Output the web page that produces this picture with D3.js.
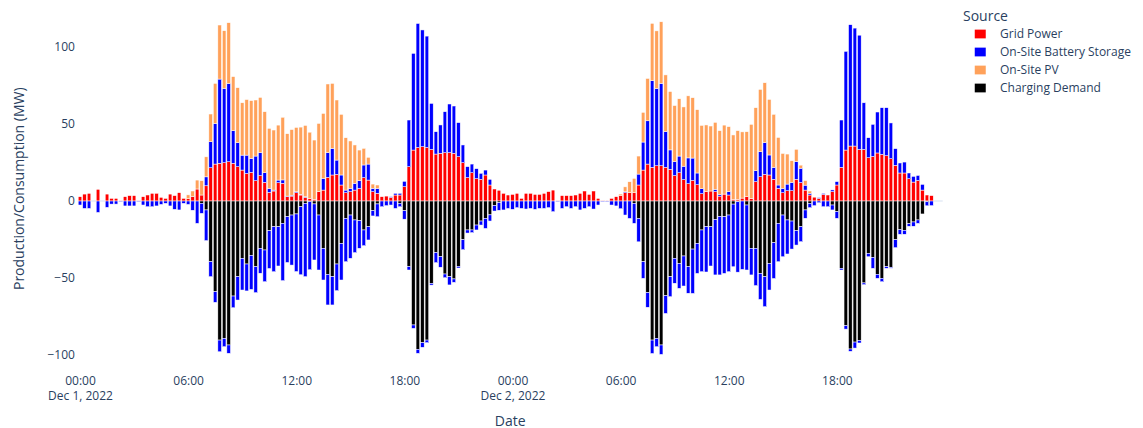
<!DOCTYPE html>
<html>
<head>
<meta charset="utf-8">
<script src="https://cdn.jsdelivr.net/npm/d3@7"></script>
<style>
  html, body { margin: 0; padding: 0; background: #fff; }
  svg { display: block; font-family: "Open Sans", verdana, arial, sans-serif; }
</style>
</head>
<body>
<svg id="chart" width="1143" height="428"></svg>
<script>
// 15-minute intervals, Dec 1 2022 00:00 through Dec 2 2022 23:45 (192 slots), MW
const startTime = Date.UTC(2022, 11, 1, 0, 0);
const stepMs = 15 * 60 * 1000;

const seriesNames = ["Grid Power", "On-Site Battery Storage", "On-Site PV", "Charging Demand"];
const seriesColors = ["#ff0000", "#0000ff", "#ffa15a", "#000000"];

const gridPower = [
  2.8, 4.5, 5, 0, 7.6, 0, 4.5, 1.7, 1.7, 0.3, 2.8, 3.5, 3.5, 0.3, 2.8, 3.9, 5, 5, 2.4, 1.7, 4.5, 3.5, 5.4, 1.7,
  1.5, 3, 7.8, 3.9, 9.9, 21.6, 24, 24.5, 24.9, 25.5, 24.5, 22.3, 20.1, 17.9, 18.6, 13.2, 16.5, 12.1, 5.6, 6.5, 11.9, 11.5, 2.8, 3.2,
  5.4, 3.9, 2.4, 1.7, 1.1, 6.1, 7.1, 15.4, 16.9, 17.3, 10.4, 5.4, 6.1, 7.1, 8.2, 15.2, 13.6, 6.1, 5, 2.8, 3.2, 2.4, 3.9, 3.9,
  9.3, 22.3, 33.1, 34.8, 35.3, 34.8, 33.5, 30.5, 31, 31.4, 31.4, 31, 28.8, 24.9, 15.2, 18.4, 14.5, 14.1, 16.9, 10.4, 7.8, 7, 5, 3.9,
  4.3, 5, 1.7, 5, 5, 4.3, 4.3, 5, 6.1, 7.1, 0.3, 3.5, 3.5, 3.5, 3.9, 5, 6.5, 4.3, 6.5, 1.7, 0.3, 0.3, 1.7, 2.8,
  3.5, 5.4, 5.4, 5.4, 10.4, 20.1, 24, 21.9, 22.9, 22.9, 21.9, 20.6, 16.5, 18.4, 13.9, 11.3, 13.4, 10.6, 4.8, 6.1, 6.5, 6.1, 3.2, 4.5,
  3.9, 1.1, 1.1, 1.9, 2.8, 1.7, 12.6, 15.8, 17.3, 16.9, 14.1, 8.2, 5.4, 6.7, 6.7, 14.1, 12, 7.1, 3.9, 2.5, 1.7, 4.3, 3.9, 6.1,
  10.4, 21.9, 33.1, 35.7, 35.7, 33.5, 33.5, 28.1, 29, 31.2, 30.3, 29.4, 27.5, 23.2, 18.2, 18.2, 14.5, 12.3, 13.4, 7.1, 3.9, 3.5, 0, 0
];

// battery discharging (positive) and charging (negative) parts of the same source
const batteryDischarge = [
  0, 0, 0, 0, 0, 0, 0, 0, 0, 0, 0, 0, 0, 0, 0, 0, 0, 0, 0, 0, 0, 0, 0, 0,
  0, 0, 0, 0, 5.8, 16.9, 26.4, 54.7, 48.3, 50.9, 21.2, 15.6, 9.7, 11.9, 9.1, 16, 14.9, 6.3, 2.6, 0.6, 1.7, 2.2, 0.4, 0.6,
  0.6, 0.4, 0.4, 0, 0, 0, 7.6, 16, 17.3, 9.3, 6.5, 1.7, 2.1, 4.4, 5, 8.2, 10.4, 2.1, 3.2, 0, 0, 0.4, 1.1, 1.1,
  3.5, 30.3, 62.8, 80.5, 75.8, 72.3, 29.9, 14.5, 18.4, 26.6, 31.6, 30.7, 22.1, 11.5, 7.1, 5.6, 6.5, 3.9, 3.2, 3.7, 0, 0, 0, 0,
  0, 0, 0, 0, 0, 0, 0, 0, 0, 0, 0, 0, 0, 0, 0, 0, 0, 0, 0, 0, 0, 0, 0, 0,
  0, 0.6, 0, 0, 7.1, 18.2, 28.1, 56.3, 50.2, 53.5, 23.2, 12.6, 9.1, 10.8, 8.7, 16.7, 14.5, 7.6, 3.2, 0, 0, 1.5, 1, 0,
  2.2, 0, 0, 0, 0, 0, 7.1, 16.2, 20.6, 13, 7.8, 2.2, 2.8, 4.3, 5.4, 11.5, 9.3, 3.2, 1.1, 0, 0.5, 0.6, 0, 1.1,
  2.2, 30.7, 64.1, 78.8, 76.6, 74.2, 30.3, 13, 20.8, 26.6, 30.3, 31.2, 23.2, 10.8, 6.5, 7.1, 3.7, 3.7, 3.2, 3.7, 0, 0, 0, 0
];

const batteryCharge = [
  -2.6, -4.8, -4.8, 0, -7.4, 0, -4.1, -2, -2, -0.3, -3.2, -3.2, -3.2, -0.3, -2.6, -3.7, -3.7, -3.2, -2.2, -1.5, -3.2, -5.4, -5.8, -1.5,
  -2.2, -6, -14.5, -6.5, -19.9, -9.7, -6.9, -7.6, -5.4, -5.4, -7.6, -15.2, -20.6, -17.5, -22.1, -16.9, -16.2, -20.6, -24.5, -29.2, -25.5, -37.2, -29.7, -32.5,
  -37.4, -44.2, -47.6, -44.2, -36.4, -35.7, -20.6, -19.9, -18.4, -17.3, -23.8, -28.1, -28.1, -21.2, -17.9, -10.2, -8.6, -3.4, -8.3, -3.7, -3, -2.6, -4.8, -2.2,
  -5.5, -2.2, -2.2, -2.6, -3, -1.7, -1.1, -6.5, -6.9, -2.4, -5.4, -2.2, -1.1, -6.5, -2, -1.7, -3.2, -2.6, -6.5, -4, -3.5, -5, -5.8, -4.8,
  -5.4, -4.3, -4.8, -5.2, -4.8, -5.4, -4.8, -4.8, -4.3, -6.9, -0.3, -4.8, -3.7, -4.8, -3.7, -5.8, -4.8, -3.7, -5.2, -2.6, -0.3, -0.3, -2.6, -3.2,
  -5, -9.1, -11.3, -13, -15.2, -10.8, -9.5, -8.7, -5.4, -6.1, -11.5, -13, -16.2, -16.2, -19.5, -17.3, -28.8, -19.5, -27.1, -29.4, -25.5, -36, -38, -36.8,
  -36.8, -40.7, -45.7, -44.4, -42.2, -17.3, -24.2, -16.9, -19.5, -17.3, -23.2, -24.9, -27.1, -22.1, -18.2, -9.3, -9.7, -5.4, -2.8, -3, -1.1, -3.7, -3.7, -3.2,
  -4.3, -1.1, -2.2, -1.5, -3.9, -1.7, -1.1, -2.2, -7.1, -2.6, -2.2, -1.1, -0.6, -5.2, -3, -2.6, -1.7, -2.8, -2.2, 0, -2.6, -3, 0, 0
];

const onSitePV = [
  0, 0, 0, 0, 0, 0, 0, 0, 0, 0, 0, 0, 0, 0, 0, 0, 0, 0, 0, 0, 0, 0, 0, 0,
  2.5, 3.5, 5.8, 9.3, 13, 18, 26, 35.1, 37.4, 39.4, 35.1, 35.7, 34, 36.1, 37.5, 36.4, 35.9, 39.6, 39, 39, 35.7, 40.7, 40.5, 42.6,
  41.8, 43.7, 46.3, 43, 38.5, 44.3, 42.2, 44.6, 42.2, 39, 39.4, 34, 30.8, 24.9, 19.9, 10.8, 4.4, 2.8, 2.2, 0, 0, 0, 0, 0,
  0, 0, 0, 0, 0, 0, 0, 0, 0, 0, 0, 0, 0, 0, 0, 0, 0, 0, 0, 0, 0, 0, 0, 0,
  0, 0, 0, 0, 0, 0, 0, 0, 0, 0, 0, 0, 0, 0, 0, 0, 0, 0, 0, 0, 0, 0, 0, 0,
  1, 3.2, 7.1, 9.3, 11.7, 19.3, 27.5, 37.2, 37.4, 40, 36.8, 37.9, 36.4, 37.2, 38.5, 40.3, 39.2, 41.1, 41.1, 43.3, 42.2, 43.5, 41.5, 44.8,
  42.2, 41.8, 44.6, 43, 42.2, 48.1, 40.9, 40.5, 38.9, 36.1, 34.4, 30.9, 22.7, 19.5, 14.1, 8, 2, 3, 1.5, 0, 0, 0, 0, 0,
  0, 0, 0, 0, 0, 0, 0, 0, 0, 0, 0, 0, 0, 0, 0, 0, 0, 0, 0, 0, 0, 0, 0, 0
];

const chargingDemand = [
  0, 0, 0, 0, 0, 0, 0, 0, 0, 0, 0, 0, 0, 0, 0, 0, 0, 0, 0, 0, 0, 0, 0, 0,
  0, 0, 0, -1.5, -5.8, -39.4, -58.9, -90.3, -89.2, -93.5, -61.7, -49.1, -37.2, -40.9, -35.3, -42.6, -30.7, -31.8, -19.3, -16.7, -16.7, -14.5, -10.2, -9.1,
  -8.4, -3.7, -1.5, -0.4, -1.9, -9.1, -30.7, -47.6, -49.1, -40.9, -27.5, -11.3, -9.1, -12.3, -12.8, -18.8, -16.7, -6.3, -1.9, 0, 0, 0, 0, -1.5,
  -6.3, -42.6, -80.5, -96.3, -92, -90.3, -53.5, -33.5, -36.1, -47.4, -49.1, -50.6, -42.4, -25.1, -18.8, -18.8, -15.6, -13, -11.3, -9, -3, -1, 0, 0,
  0, 0, 0, 0, 0, 0, 0, 0, 0, 0, 0, 0, 0, 0, 0, 0, 0, 0, 0, 0, 0, 0, 0, 0,
  0, 0, 0, -1.5, -11.3, -39.4, -59.5, -90.3, -89.2, -93.5, -61.5, -49.1, -37.2, -40.5, -35.7, -42.6, -31.2, -27.5, -18.8, -16.7, -16.7, -12, -10, -10.2,
  -9.1, -2, -0.5, 0, -2.6, -30.7, -30.7, -47, -49.1, -40.5, -27.1, -14.5, -9.1, -12.3, -13, -19.3, -16.7, -5.8, -1.5, 0, 0, 0, 0, -2.6,
  -6.9, -43.7, -81, -96.1, -91.6, -90.5, -53.2, -34, -36.6, -47.6, -50.2, -42.6, -43, -25.1, -18.6, -19, -14.7, -13.6, -12.3, -8.4, -0.5, 0, 0, 0
];

const yTickValues = [-100, -50, 0, 50, 100];
const yDomain = [-105, 121];

// ---- layout ----
const plot = { left: 77.75, right: 942.7, top: 14.7, bottom: 362.7 };
const textColor = "#2a3f5f";
const zeroLineColor = "#ebf0f8";

const svg = d3.select("#chart");

const times = gridPower.map((_, i) => new Date(startTime + i * stepMs));
const lastTime = times[times.length - 1].getTime();

const x = d3.scaleUtc()
  .domain([new Date(startTime - stepMs / 2), new Date(lastTime + stepMs / 2)])
  .range([plot.left, plot.right]);

const y = d3.scaleLinear().domain(yDomain).range([plot.bottom, plot.top]);

const xTicks = d3.utcHour.every(6).range(new Date(startTime), new Date(lastTime + 1));

// zero line
svg.append("line")
  .attr("x1", plot.left).attr("x2", plot.right)
  .attr("y1", y(0)).attr("y2", y(0))
  .attr("stroke", zeroLineColor).attr("stroke-width", 2);

// ---- stacked bars: positives build up from zero, negatives build down ----
const segments = [];
times.forEach((t, i) => {
  let pos = 0, neg = 0;
  const addPos = (v, s) => { if (v > 0) { segments.push({ t, s, y0: pos, y1: pos + v }); pos += v; } };
  const addNeg = (v, s) => { if (v < 0) { segments.push({ t, s, y0: neg, y1: neg + v }); neg += v; } };
  addPos(gridPower[i], 0);
  addPos(batteryDischarge[i], 1);
  addPos(onSitePV[i], 2);
  addNeg(chargingDemand[i], 3);
  addNeg(batteryCharge[i], 1);
});

const slot = x(new Date(startTime + stepMs)) - x(new Date(startTime));
const barW = slot * 0.8;

svg.append("g").selectAll("rect").data(segments).join("rect")
  .attr("x", d => x(d.t) - barW / 2)
  .attr("width", barW)
  .attr("y", d => y(Math.max(d.y0, d.y1)))
  .attr("height", d => Math.abs(y(d.y0) - y(d.y1)))
  .attr("fill", d => seriesColors[d.s])
  .attr("stroke", "#ffffff")
  .attr("stroke-width", 0.5);

// ---- y axis ----
const yAxis = svg.append("g")
  .attr("transform", `translate(${plot.left},0)`)
  .call(d3.axisLeft(y).tickValues(yTickValues).tickSize(0).tickPadding(2.8));
yAxis.select(".domain").remove();
yAxis.selectAll("text")
  .attr("fill", textColor)
  .style("font-size", "12px")
  .style("font-family", '"Open Sans", verdana, arial, sans-serif');

// ---- x axis (time of day, with date under midnight ticks) ----
const fmtTime = d3.utcFormat("%H:%M");
const fmtDate = d3.utcFormat("%b %-d, %Y");
const xAxis = svg.append("g")
  .attr("transform", `translate(0,${plot.bottom})`)
  .call(d3.axisBottom(x).tickValues(xTicks).tickSize(0).tickFormat(fmtTime));
xAxis.select(".domain").remove();
xAxis.selectAll("text")
  .attr("fill", textColor)
  .attr("y", 22.3)
  .attr("dy", null)
  .style("font-size", "12px")
  .style("font-family", '"Open Sans", verdana, arial, sans-serif')
  .each(function (d) {
    if (d.getUTCHours() === 0) {
      d3.select(this).append("tspan")
        .attr("x", 0).attr("dy", 15)
        .text(fmtDate(d));
    }
  });

// ---- axis titles ----
svg.append("text")
  .attr("transform", `translate(23.5,${(plot.top + plot.bottom) / 2}) rotate(-90)`)
  .attr("text-anchor", "middle")
  .attr("fill", textColor)
  .style("font-size", "14px")
  .text("Production/Consumption (MW)");

svg.append("text")
  .attr("x", (plot.left + plot.right) / 2)
  .attr("y", 425.5)
  .attr("text-anchor", "middle")
  .attr("fill", textColor)
  .style("font-size", "14px")
  .text("Date");

// ---- legend ----
const legend = svg.append("g").attr("transform", "translate(963,0)");
legend.append("text")
  .attr("x", 0).attr("y", 21)
  .attr("fill", textColor)
  .style("font-size", "14px")
  .text("Source");
const items = legend.selectAll("g.item").data(seriesNames).join("g")
  .attr("transform", (d, i) => `translate(0,${34 + i * 18})`);
items.append("rect")
  .attr("x", 11.5).attr("y", -4.75)
  .attr("width", 11.5).attr("height", 9.5)
  .attr("fill", (d, i) => seriesColors[i])
  .attr("stroke", "#ffffff").attr("stroke-width", 0.5);
items.append("text")
  .attr("x", 37).attr("y", 4.3)
  .attr("fill", textColor)
  .style("font-size", "12px")
  .text(d => d);
</script>
</body>
</html>
